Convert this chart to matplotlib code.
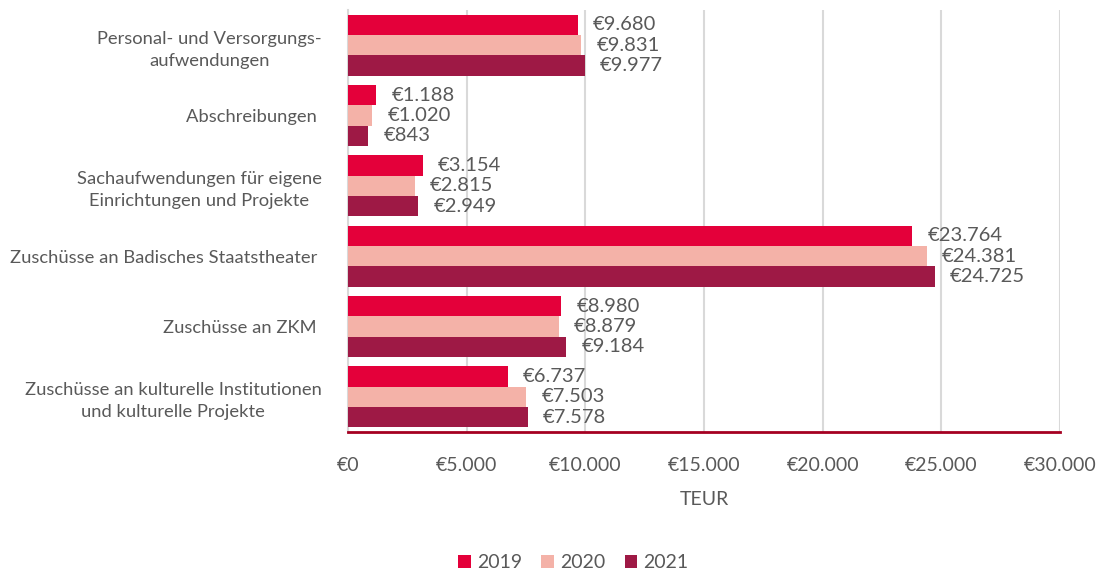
import numpy as np
import matplotlib.pyplot as plt

categories = ['Personal- und Versorgungs-\naufwendungen',
              'Abschreibungen ',
              'Sachaufwendungen für eigene\nEinrichtungen und Projekte',
              'Zuschüsse an Badisches Staatstheater ',
              'Zuschüsse an ZKM ',
              'Zuschüsse an kulturelle Institutionen\nund kulturelle Projekte']
years = ['2019', '2020', '2021']
v2019 = [9680, 1188, 3154, 23764, 8980, 6737]
v2020 = [9831, 1020, 2815, 24381, 8879, 7503]
v2021 = [9977, 843, 2949, 24725, 9184, 7578]
colors = ['#E4003A', '#F4B2A8', '#9E1945']
xticks = [0, 5000, 10000, 15000, 20000, 25000, 30000]

plt.rcParams['font.family'] = ['Lato', 'DejaVu Sans']

txt = '#595959'


def eur(v):
    return '€' + f'{v:,.0f}'.replace(',', '.')


fig = plt.figure(figsize=(11.09, 5.74), dpi=100)
ax = fig.add_axes([348 / 1109, 1 - 432 / 574, 712 / 1109, 422 / 574])

y = np.arange(len(categories))
h = 0.29
for k, vals in enumerate([v2019, v2020, v2021]):
    pos = y + (k - 1) * h
    ax.barh(pos, vals, height=h, color=colors[k], label=years[k], zorder=3)
    for p, v in zip(pos, vals):
        ax.annotate(eur(v), (v, p), xytext=(11, 0), textcoords='offset points',
                    va='center', ha='left', fontsize=14.5, color=txt)

ax.set_xlim(0, 30000)
ax.set_ylim(len(categories) - 0.5, -0.5)
ax.set_xticks(xticks)
ax.set_xticklabels([eur(t) for t in xticks], fontsize=14, color=txt)
ax.set_yticks(y)
ax.set_yticklabels(categories, fontsize=13.2, color=txt, linespacing=1.45,
                   multialignment='center')
ax.tick_params(axis='both', length=0)
ax.tick_params(axis='x', pad=18)
ax.tick_params(axis='y', pad=19)
ax.grid(axis='x', color='#D9D9D9', linewidth=1.5, zorder=0)
for s in ['top', 'right']:
    ax.spines[s].set_visible(False)
ax.spines['left'].set_color('#D9D9D9')
ax.spines['left'].set_linewidth(1.5)
ax.spines['bottom'].set_color('#A50021')
ax.spines['bottom'].set_linewidth(2)
ax.set_xlabel('TEUR', fontsize=14, color=txt, labelpad=12)

fig.legend(loc='lower center', bbox_to_anchor=(0.517, -0.026), ncol=3, frameon=False,
           fontsize=14, labelcolor=txt, handlelength=0.65, handleheight=0.65,
           handletextpad=0.3, columnspacing=1.0)

fig.savefig('out.png', dpi=100)
